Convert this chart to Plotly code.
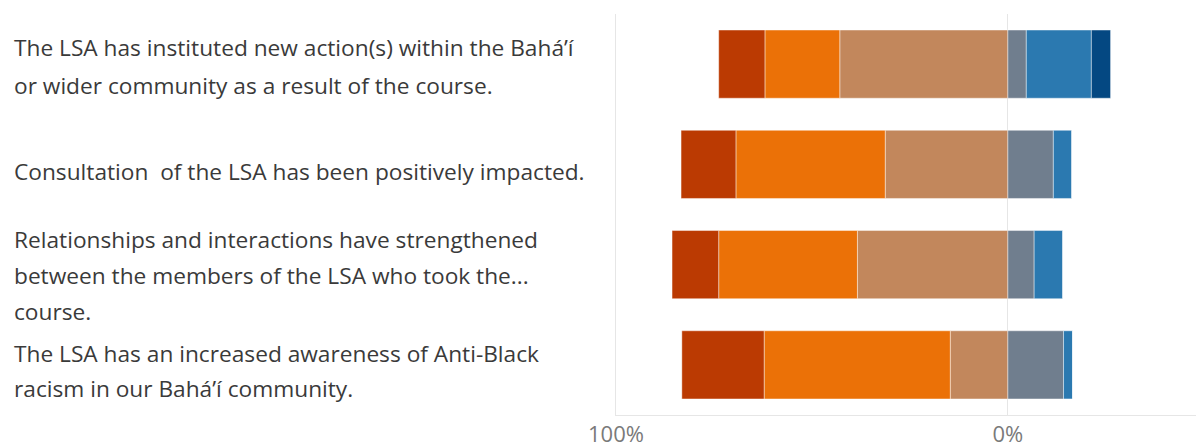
import plotly.graph_objects as go

# ---- data (percent of respondents) ----
statements = [
    "The LSA has instituted new action(s) within the Bahá'í or wider community as a result of the course.",
    "Consultation  of the LSA has been positively impacted.",
    "Relationships and interactions have strengthened between the members of the LSA who took the course.",
    "The LSA has an increased awareness of Anti-Black racism in our Bahá'í community.",
]
label_lines = [
    ["The LSA has instituted new action(s) within the Bahá\u2019í",
     "or wider community as a result of the course."],
    ["Consultation\u00a0 of the LSA has been positively impacted."],
    ["Relationships and interactions have strengthened",
     "between the members of the LSA who took the...",
     "course."],
    ["The LSA has an increased awareness of Anti-Black",
     "racism in our Bahá\u2019í community."],
]
strongly_agree = [11.8, 14.0, 11.9, 21.0]
agree = [19.1, 38.1, 35.4, 47.5]
somewhat_agree = [42.9, 31.3, 38.4, 14.7]
somewhat_disagree = [4.7, 11.6, 6.7, 14.2]
disagree = [16.6, 4.7, 7.3, 2.3]
strongly_disagree = [4.9, 0.0, 0.0, 0.0]
tick_vals = [-100, 0]
tick_text = ["100%", "0%"]

# ---- styles ----
colors = {
    "Strongly agree": "#BB3A02",
    "Agree": "#EB7107",
    "Somewhat agree": "#C2875C",
    "Somewhat disagree": "#707E8E",
    "Disagree": "#2B79B0",
    "Strongly disagree": "#044882",
}

fig = go.Figure()
left_side = [("Somewhat agree", somewhat_agree), ("Agree", agree), ("Strongly agree", strongly_agree)]
right_side = [("Somewhat disagree", somewhat_disagree), ("Disagree", disagree), ("Strongly disagree", strongly_disagree)]
for name, vals in left_side:
    fig.add_trace(go.Bar(
        y=statements, x=[-v for v in vals], orientation="h", name=name,
        marker=dict(color=colors[name], line=dict(width=0.8, color="rgba(255,255,255,0.55)")),
    ))
for name, vals in right_side:
    fig.add_trace(go.Bar(
        y=statements, x=vals, orientation="h", name=name,
        marker=dict(color=colors[name], line=dict(width=0.8, color="rgba(255,255,255,0.55)")),
    ))

line_offsets = [[-17, 21], [7], [-25, 10.5, 47], [-11, 24]]
annotations = []
for cat, lines, offs in zip(statements, label_lines, line_offsets):
    for txt, off in zip(lines, offs):
        annotations.append(dict(
            x=0, xref="paper", xshift=-616 + 12, xanchor="left",
            y=cat, yref="y", yshift=-off, yanchor="middle",
            text=txt, showarrow=False,
            font=dict(family="Open Sans", size=22.7, color="#3a3a3a"),
        ))

fig.update_layout(
    width=1196, height=444,
    margin=dict(l=616, r=0, t=14, b=29, autoexpand=False),
    barmode="relative", bargap=0.32,
    showlegend=False,
    plot_bgcolor="white", paper_bgcolor="white",
    annotations=annotations,
    xaxis=dict(
        range=[-100, 48], tickvals=tick_vals, ticktext=tick_text,
        showgrid=False, automargin=False,
        zeroline=True, zerolinecolor="#e6e6e6", zerolinewidth=1,
        showline=True, linecolor="#e6e6e6", linewidth=1,
        ticks="", ticklabelstandoff=0,
        tickfont=dict(family="Open Sans", size=22, color="#7a7a7a"),
    ),
    yaxis=dict(
        autorange="reversed", showticklabels=False, showgrid=False,
        automargin=False,
        showline=True, linecolor="#e6e6e6", linewidth=1, ticks="",
    ),
)

fig.write_html(
    "out.html",
    config={"staticPlot": True},
    post_script="document.body.style.margin='0';document.body.style.overflow='hidden';",
)
